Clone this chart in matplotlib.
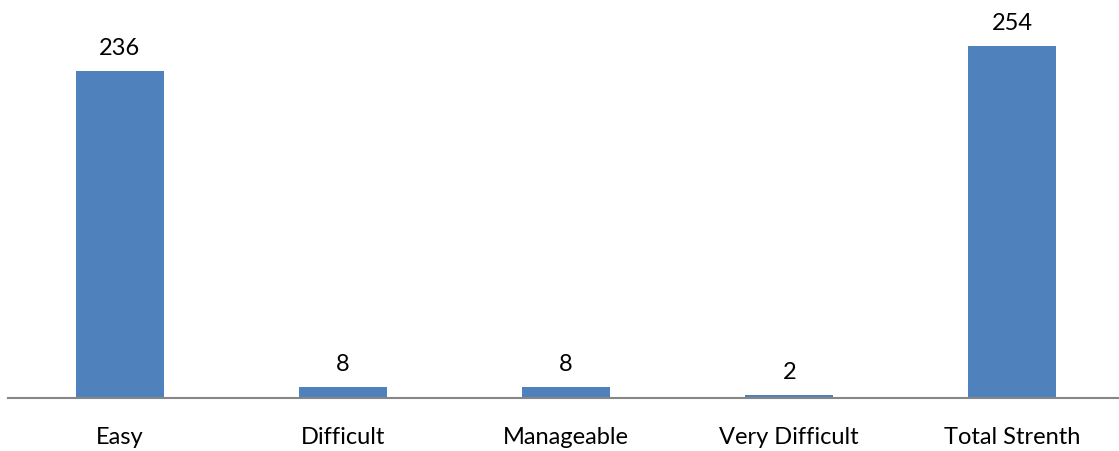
import matplotlib
matplotlib.use('Agg')
from matplotlib import pyplot as plt

categories = ['Easy', 'Difficult', 'Manageable', 'Very Difficult', 'Total Strenth']
values = [236, 8, 8, 2, 254]

plt.rcParams['font.family'] = ['Lato', 'DejaVu Sans']

fig = plt.figure(figsize=(11.19, 4.52), dpi=100)
ax = fig.add_axes([8 / 1119, 53 / 452, 1116 / 1119, 399 / 452])

x = range(len(categories))
bars = ax.bar(x, values, width=0.395, color='#4F81BD', zorder=2)

for xi, v in zip(x, values):
    ax.annotate(str(v), (xi, v), xytext=(0, 13), textcoords='offset pixels',
                ha='center', va='bottom', fontsize=17, color='black')

ax.set_xlim(-0.5, 4.5)
ax.set_ylim(0, 288)
ax.set_xticks(list(x))
ax.set_xticklabels(categories, fontsize=17)
ax.tick_params(axis='x', length=0, pad=20)
ax.set_yticks([])

for side in ['top', 'right', 'left']:
    ax.spines[side].set_visible(False)
ax.spines['bottom'].set_color('#868686')
ax.spines['bottom'].set_linewidth(1.5)

fig.savefig('out.png', dpi=100)
